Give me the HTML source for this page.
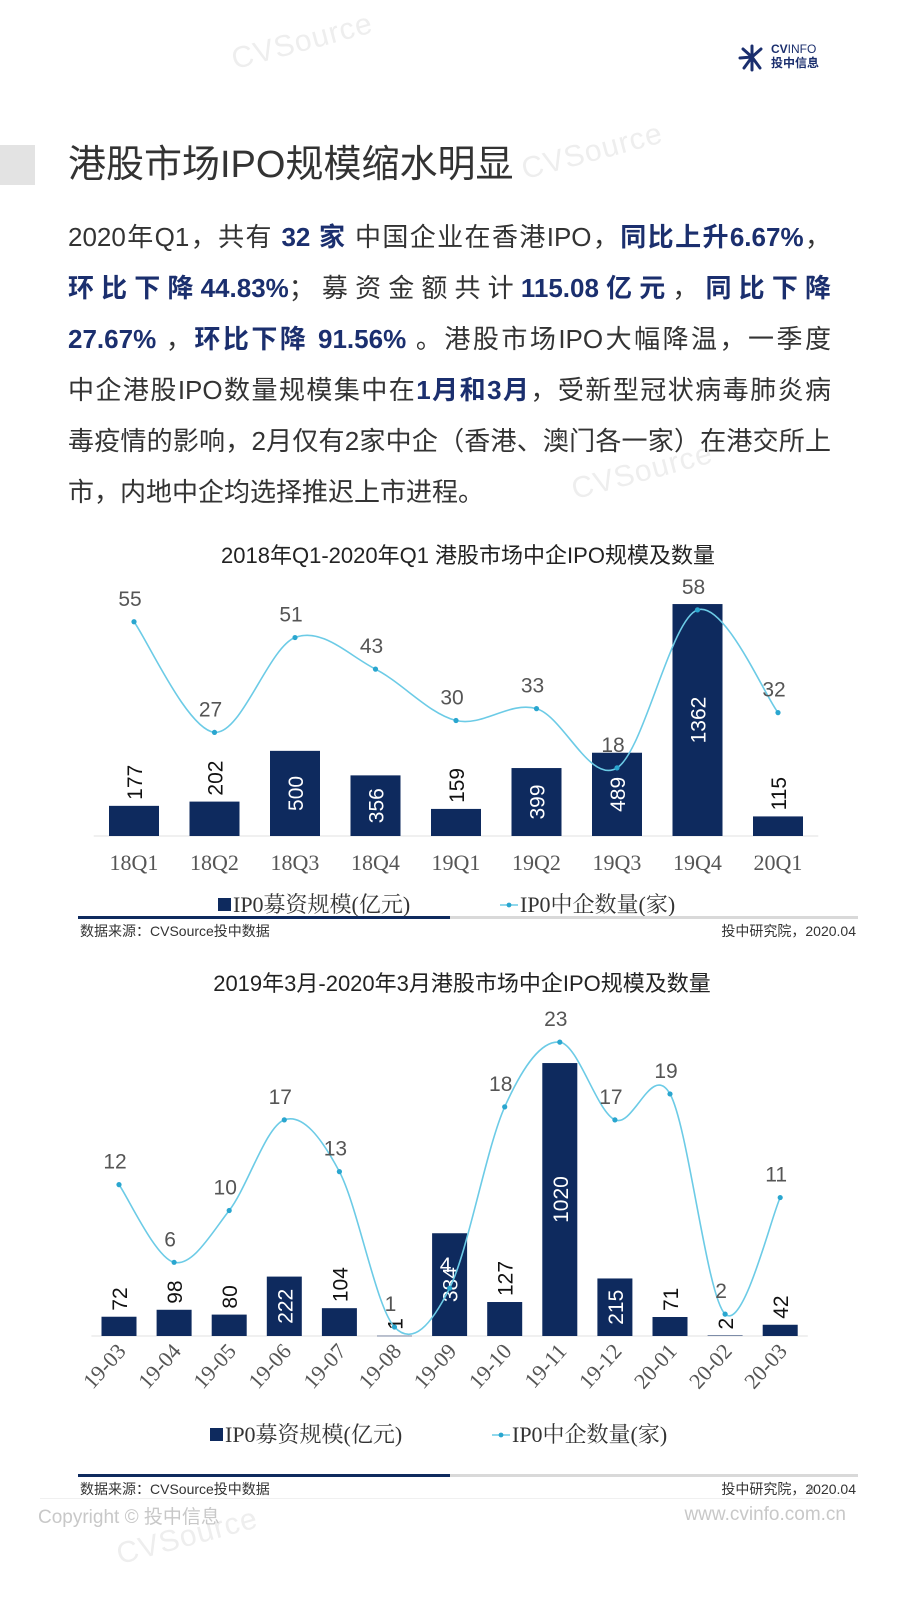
<!DOCTYPE html>
<html><head><meta charset="utf-8">
<style>
body{margin:0;width:900px;height:1600px;background:#fff;position:relative;overflow:hidden;font-family:"Liberation Sans","Noto Sans CJK SC",sans-serif;color:#333}
.abs{position:absolute}
.para{position:absolute;left:68px;width:763px;top:212px;font-size:26px;line-height:51px}
.para div{text-align:justify;text-align-last:justify;white-space:nowrap}
.para div.last{text-align-last:left}
.b{color:#1b2f6e;font-weight:bold}
.wm{position:absolute;color:#eeeeee;font-size:30px;transform:rotate(-15deg);font-family:"Liberation Sans",sans-serif;letter-spacing:1px}
.serif{font-family:"Liberation Serif","Noto Serif CJK SC",serif}
</style></head><body>
<div class="wm" style="left:230px;top:25px">CVSource</div>
<div class="wm" style="left:520px;top:135px">CVSource</div>
<div class="wm" style="left:570px;top:455px">CVSource</div>
<div class="wm" style="left:115px;top:1520px">CVSource</div>

<div class="abs" style="left:735px;top:42px;width:120px;height:30px">
<svg width="34" height="30"><g stroke="#1b2f6e" stroke-width="3" stroke-linecap="round"><line x1="17" y1="15" x2="17" y2="4"/><line x1="17" y1="15" x2="8" y2="7"/><line x1="17" y1="15" x2="26" y2="7"/><line x1="17" y1="15" x2="5" y2="16"/><line x1="17" y1="15" x2="9" y2="26"/><line x1="17" y1="15" x2="17" y2="28"/><line x1="17" y1="15" x2="25" y2="26"/></g></svg>
<div class="abs" style="left:36px;top:0;font-size:12px;color:#1b2f6e;line-height:14px"><b>CV</b>INFO<br><b>投中信息</b></div>
</div>

<div class="abs" style="left:0;top:145px;width:35px;height:40px;background:#e3e3e3"></div>
<div class="abs" style="left:68px;top:140px;font-size:38px;color:#333;line-height:50px">港股市场IPO规模缩水明显</div>

<div class="para">
<div>2020年Q1，共有 <span class="b">32 家</span> 中国企业在香港IPO，<span class="b">同比上升6.67%</span>，</div>
<div><span class="b">环比下降44.83%</span>；募资金额共计<span class="b">115.08亿元</span>，<span class="b">同比下降</span></div>
<div><span class="b">27.67% </span>，<span class="b">环比下降 91.56%</span> 。港股市场IPO大幅降温，一季度</div>
<div>中企港股IPO数量规模集中在<span class="b">1月和3月</span>，受新型冠状病毒肺炎病</div>
<div>毒疫情的影响，2月仅有2家中企（香港、澳门各一家）在港交所上</div>
<div class="last">市，内地中企均选择推迟上市进程。</div>
</div>

<svg id="c1" class="abs" style="left:0;top:530px" width="900" height="420"></svg>
<svg id="c2" class="abs" style="left:0;top:960px" width="900" height="550"></svg>

<div class="abs" style="left:808px;top:1484px;font-size:11px;color:#999">9</div>
<div class="abs" style="left:40px;top:1498px;width:810px;height:1px;background:#f0f0f0"></div>
<div class="abs" style="left:38px;top:1502px;font-size:19px;color:#c8c8c8">Copyright © 投中信息</div>
<div class="abs" style="right:54px;top:1504px;font-size:19px;color:#c8c8c8">www.cvinfo.com.cn</div>

<script>
const q_categories=["18Q1","18Q2","18Q3","18Q4","19Q1","19Q2","19Q3","19Q4","20Q1"];
const q_amount=[177,202,500,356,159,399,489,1362,115];
const q_count=[55,27,51,43,30,33,18,58,32];
const m_categories=["19-03","19-04","19-05","19-06","19-07","19-08","19-09","19-10","19-11","19-12","20-01","20-02","20-03"];
const m_amount=[72,98,80,222,104,1,384,127,1020,215,71,2,42];
const m_count=[12,6,10,17,13,1,4,18,23,17,19,2,11];

const NS="http://www.w3.org/2000/svg";
const SANS='font-family:"Liberation Sans","Noto Sans CJK SC",sans-serif';
const SERIF='font-family:"Liberation Serif","Noto Serif CJK SC",serif';
function mk(p,tag,attrs,txt){const e=document.createElementNS(NS,tag);for(const k in attrs)e.setAttribute(k,attrs[k]);if(txt!==undefined)e.textContent=txt;p.appendChild(e);return e;}
function smooth(pts){let d="M"+pts[0][0]+","+pts[0][1];for(let i=0;i<pts.length-1;i++){const p0=pts[Math.max(0,i-1)],p1=pts[i],p2=pts[i+1],p3=pts[Math.min(pts.length-1,i+2)];const c1x=p1[0]+(p2[0]-p0[0])/6,c1y=p1[1]+(p2[1]-p0[1])/6,c2x=p2[0]-(p3[0]-p1[0])/6,c2y=p2[1]-(p3[1]-p1[1])/6;d+=" C"+c1x+","+c1y+" "+c2x+","+c2y+" "+p2[0]+","+p2[1];}return d;}

function chart(svg,o){
  const n=o.cats.length;
  const xs=i=>o.x0+i*o.step;
  const yb=v=>o.base-v*o.barScale;
  const yl=v=>o.lineZero-v*o.lineScale;
  const t=mk(svg,"text",{x:o.titleX,y:o.titleY,"text-anchor":"middle","font-size":22,fill:"#222",style:SANS},o.title);
  
  
  const ax=mk(svg,"line",{x1:o.x0-o.step/2,x2:o.x0+(n-0.5)*o.step,y1:o.base,y2:o.base,stroke:"#e0e0e0"});
  
  
  for(let i=0;i<n;i++){
    const x=xs(i),v=o.amt[i],top=yb(v),h=o.base-top;
    const r=mk(svg,"rect",{x:x-o.bw/2,y:top,width:o.bw,height:Math.max(h,0.5),fill:"#0e2a5e"});
    
    
    const inside=h>=50;
    const ty=inside?(top+h/2):top-6;
    const lb=mk(svg,"text",{x:0,y:0,transform:"translate("+(x+8)+","+ty+") rotate(-90)","text-anchor":inside?"middle":"start","font-size":21,fill:inside?"#fff":"#111",style:SANS},String(v));
    
    
    let xl;
    if(o.rot){xl=mk(svg,"text",{x:0,y:0,transform:"translate("+(x+8)+","+(o.base+16)+") rotate(-48)","text-anchor":"end","font-size":22,fill:"#555",style:SERIF},o.cats[i]);}
    else{xl=mk(svg,"text",{x:x,y:o.base+34,"text-anchor":"middle","font-size":22,fill:"#555",style:SERIF},o.cats[i]);}
    
    
  }
  const pts=o.cnt.map((v,i)=>[xs(i),yl(v)]);
  const path=mk(svg,"path",{d:smooth(pts),fill:"none",stroke:"#6ccbe6","stroke-width":1.6});
  
  
  pts.forEach((p,i)=>{
    const c=mk(svg,"circle",{cx:p[0],cy:p[1],r:2.6,fill:"#2aa6cf"});
    
    
    const tl=mk(svg,"text",{x:p[0]-4,y:p[1]-16,"text-anchor":"middle","font-size":21,fill:(o.whiteIdx===i?"#fff":"#555"),style:SANS},String(o.cnt[i]));
    
    
  });
  const lg=mk(svg,"g",{});
  
  
  mk(lg,"rect",{x:o.legX,y:o.legY-14,width:13,height:13,fill:"#0e2a5e"});
  mk(lg,"text",{x:o.legX+15,y:o.legY,"font-size":22,fill:"#333",style:SERIF},"IP0募资规模(亿元)");
  mk(lg,"line",{x1:o.legX+282,x2:o.legX+300,y1:o.legY-7,y2:o.legY-7,stroke:"#6ccbe6","stroke-width":1.6});
  mk(lg,"circle",{cx:o.legX+291,cy:o.legY-7,r:2.4,fill:"#2aa6cf"});
  mk(lg,"text",{x:o.legX+302,y:o.legY,"font-size":22,fill:"#333",style:SERIF},"IP0中企数量(家)");
  const s1=mk(svg,"rect",{x:78,y:o.ruleY,width:372,height:3,fill:"#0e2a5e"});
  
  
  mk(svg,"rect",{x:450,y:o.ruleY,width:408,height:3,fill:"#d9d9d9"});
  const src=mk(svg,"text",{x:80,y:o.ruleY+20,"font-size":14,fill:"#333",style:SANS},"数据来源：CVSource投中数据");
  
  
  const dt=mk(svg,"text",{x:856,y:o.ruleY+20,"text-anchor":"end","font-size":14,fill:"#333",style:SANS},"投中研究院，2020.04");
  
  
}
chart(document.getElementById("c1"),{cats:q_categories,amt:q_amount,cnt:q_count,x0:134,step:80.5,bw:50,base:306,barScale:0.1703,lineZero:309,lineScale:3.95,title:"2018年Q1-2020年Q1 港股市场中企IPO规模及数量",titleX:468,titleY:33,rot:false,legX:218,legY:382,ruleY:386,whiteIdx:-1});
chart(document.getElementById("c2"),{cats:m_categories,amt:m_amount,cnt:m_count,x0:119,step:55.1,bw:35,base:376,barScale:0.2676,lineZero:380,lineScale:12.95,title:"2019年3月-2020年3月港股市场中企IPO规模及数量",titleX:462,titleY:31,rot:true,legX:210,legY:482,ruleY:514,whiteIdx:6});
</script>
</body></html>
